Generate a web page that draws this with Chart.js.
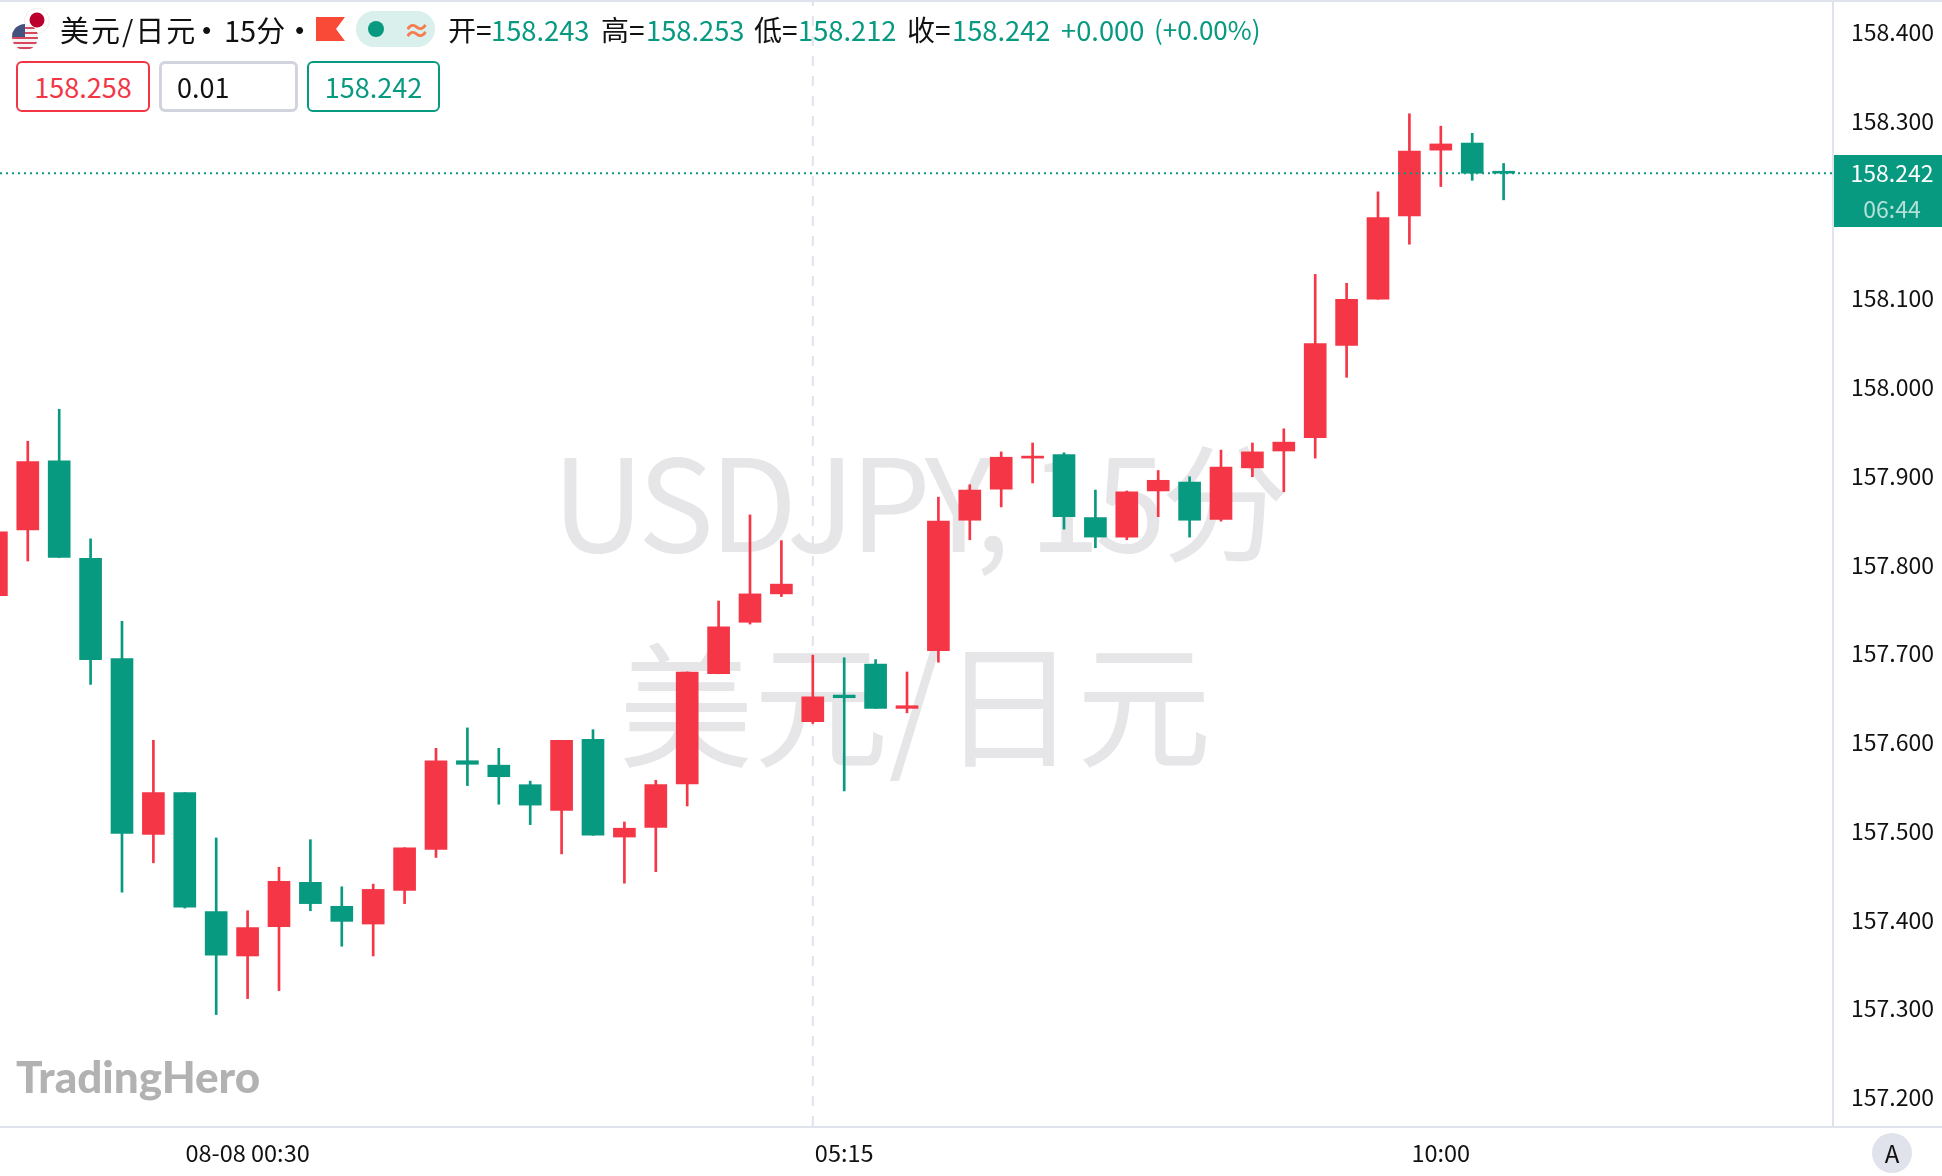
<!DOCTYPE html>
<html lang="zh">
<head>
<meta charset="UTF-8">
<title>USDJPY</title>
<script src="https://cdn.jsdelivr.net/npm/chart.js"></script>
<style>
html, body { margin: 0; padding: 0; background: #fff; overflow: hidden; }
body { width: 1942px; height: 1176px; position: relative; font-family: "Noto Sans CJK SC", "Noto Sans", sans-serif; color: #111; }
canvas { position: absolute; left: 0; top: 0; }
.t { position: absolute; white-space: nowrap; line-height: 36px; height: 36px; top: 11px; font-size: 27.3px; }
.c { font-size: 28px; }
.g { color: #089981; }
.box { position: absolute; top: 61px; height: 51px; box-sizing: border-box; border-radius: 6px; background: #fff; font-size: 27px; line-height: 47px; text-align: center; }
</style>
</head>
<body>
<canvas id="chart" width="1942" height="1176"></canvas>

<div style="position:absolute;left:0;top:0;width:1942px;height:2px;background:#e0e3eb"></div>
<div style="position:absolute;left:1834px;top:1126px;width:108px;height:2px;background:#e0e3eb"></div>

<svg style="position:absolute;left:10px;top:8px" width="40" height="46" viewBox="0 0 40 46">
	<circle cx="27" cy="13" r="12.5" fill="#fff" stroke="#eeeeee"/>
	<circle cx="27" cy="12" r="7.5" fill="#bc002d"/>
	<clipPath id="us"><circle cx="15" cy="29" r="13"/></clipPath>
	<g clip-path="url(#us)">
		<rect x="2" y="16" width="26" height="26" fill="#f4f4f6"/>
		<rect x="2" y="19" width="26" height="2" fill="#d9475c"/>
		<rect x="2" y="24" width="26" height="2" fill="#d9475c"/>
		<rect x="2" y="29" width="26" height="2" fill="#d9475c"/>
		<rect x="2" y="34" width="26" height="2" fill="#d9475c"/>
		<rect x="2" y="39" width="26" height="2" fill="#d9475c"/>
		<rect x="2" y="16" width="13" height="13" fill="#44527f"/>
	</g>
</svg>

<span class="t" style="left:60px;font-size:29px;letter-spacing:2px">美元/日元</span>
<span class="t" style="left:193px;font-weight:700">·</span>
<span class="t" style="left:224px;font-size:29px">15分</span>
<span class="t" style="left:286px;font-weight:700">·</span>
<svg style="position:absolute;left:316px;top:17px" width="29" height="24"><polygon points="0,0 29,0 20,12 29,24 0,24" fill="#f94a38"/></svg>
<div style="position:absolute;left:356px;top:11px;width:79px;height:36px;border-radius:18px;background:#d9f0ec"></div>
<div style="position:absolute;left:368px;top:21px;width:16px;height:16px;border-radius:8px;background:#089981"></div>
<span class="t" style="left:403px;color:#f77c50;font-weight:700">≈</span>

<span class="t c" style="left:448px">开=</span><span class="t g" style="left:491px">158.243</span>
<span class="t c" style="left:601px">高=</span><span class="t g" style="left:646px">158.253</span>
<span class="t c" style="left:754px">低=</span><span class="t g" style="left:798px">158.212</span>
<span class="t c" style="left:907px">收=</span><span class="t g" style="left:952px">158.242</span>
<span class="t g" style="left:1061px">+0.000</span>
<span class="t g" style="left:1154px;font-size:26px">(+0.00%)</span>

<div class="box" style="left:16px;width:134px;border:2px solid #f23645;color:#f23645">158.258</div>
<div class="box" style="left:159px;width:139px;border:3px solid #d1d4dc;text-align:left;padding-left:15px;line-height:45px">0.01</div>
<div class="box" style="left:307px;width:133px;border:2px solid #089981;color:#089981">158.242</div>

<div style="position:absolute;left:1834px;top:155px;width:108px;height:72px;background:#089981"></div>
<span class="t" style="left:1838px;width:108px;text-align:center;top:154px;color:#fff;font-size:23px">158.242</span>
<span class="t" style="left:1838px;width:108px;text-align:center;top:190px;color:rgba(255,255,255,0.7);font-size:23px">06:44</span>

<div style="position:absolute;left:1872px;top:1133px;width:40px;height:40px;border-radius:20px;background:#e0e3eb;text-align:center;line-height:40px;font-size:24px">A</div>

<span style="position:absolute;left:16px;top:1048px;font:900 44px/56px Lato,sans-serif;color:#b2b2b2">TradingHero</span>

<script>
// candles, index 0 is the one cut off at the left edge
const open = [157.766,157.840,157.918,157.808,157.695,157.497,157.544,157.410,157.360,157.393,157.443,157.416,157.396,157.434,157.480,157.580,157.575,157.553,157.524,157.604,157.494,157.505,157.554,157.678,157.736,157.768,157.624,157.654,157.689,157.639,157.704,157.851,157.886,157.921,157.925,157.854,157.832,157.884,157.894,157.852,157.910,157.929,157.944,158.048,158.100,158.194,158.268,158.276,158.243];
const high = [157.838,157.940,157.976,157.830,157.737,157.603,157.544,157.493,157.411,157.460,157.491,157.438,157.441,157.482,157.594,157.617,157.594,157.557,157.603,157.615,157.511,157.558,157.680,157.760,157.857,157.828,157.699,157.696,157.694,157.680,157.877,157.891,157.928,157.938,157.927,157.885,157.884,157.907,157.900,157.930,157.938,157.954,158.128,158.118,158.221,158.309,158.295,158.287,158.253];
const low = [157.766,157.805,157.809,157.666,157.432,157.465,157.414,157.294,157.312,157.321,157.411,157.371,157.360,157.419,157.471,157.552,157.531,157.508,157.475,157.496,157.442,157.455,157.529,157.678,157.734,157.765,157.622,157.546,157.639,157.634,157.691,157.829,157.866,157.893,157.841,157.820,157.829,157.855,157.832,157.850,157.900,157.883,157.921,158.012,158.100,158.162,158.227,158.234,158.212];
const close = [157.838,157.917,157.809,157.694,157.498,157.544,157.415,157.361,157.392,157.444,157.419,157.399,157.435,157.482,157.580,157.576,157.562,157.530,157.603,157.496,157.504,157.553,157.680,157.731,157.768,157.779,157.652,157.651,157.639,157.642,157.850,157.885,157.922,157.923,157.855,157.832,157.883,157.896,157.851,157.911,157.928,157.939,158.050,158.100,158.192,158.267,158.275,158.242,158.242];

const yTicks = [158.4,158.3,158.1,158.0,157.9,157.8,157.7,157.6,157.5,157.4,157.3,157.2];
const xTicks = [8,27,46];
const xLabels = ['08-08 00:30','05:15','10:00'];
const crossIndex = 26;

const RED = '#f43646';
const GREEN = '#089981';
const colors = open.map((o, i) => close[i] < o ? GREEN : RED);
const last = close[close.length - 1];

const xMin = 0.115;
const xMax = 58.49;

const background = {
	id: 'background',
	beforeDatasetsDraw(chart) {
		const ctx = chart.ctx;
		const a = chart.chartArea;
		ctx.save();
		ctx.fillStyle = '#e6e6e8';
		ctx.textAlign = 'center';
		ctx.textBaseline = 'middle';
		ctx.font = '128px "Noto Sans CJK SC"';
		ctx.letterSpacing = '-5px';
		ctx.fillText('USDJPY, 15分', 918, 503);
		ctx.letterSpacing = '0px';
		ctx.font = '135px "Noto Sans CJK SC"';
		ctx.fillText('美元/日元', 915, 706);
		// crosshair
		const x = chart.scales.x.getPixelForValue(crossIndex);
		ctx.strokeStyle = '#e0e3eb';
		ctx.lineWidth = 2;
		ctx.setLineDash([10, 10]);
		ctx.lineDashOffset = 6;
		ctx.beginPath();
		ctx.moveTo(x, a.top);
		ctx.lineTo(x, a.bottom);
		ctx.stroke();
		ctx.restore();
	}
};

const chart = new Chart(document.getElementById('chart'), {
	data: {
		datasets: [
			{
				type: 'line',
				order: 0,
				data: [{x: xMin, y: last}, {x: xMax, y: last}],
				borderColor: GREEN,
				borderWidth: 2,
				borderDash: [2, 4],
				pointRadius: 0
			},
			{
				type: 'bar',
				order: 1,
				data: open.map((o, i) => ({x: i, y: [o, close[i]]})),
				backgroundColor: colors,
				barThickness: 22,
				minBarLength: 2,
				grouped: false
			},
			{
				type: 'bar',
				order: 2,
				data: low.map((l, i) => ({x: i, y: [l, high[i]]})),
				backgroundColor: colors,
				barThickness: 2,
				grouped: false
			}
		]
	},
	plugins: [background],
	options: {
		responsive: false,
		animation: false,
		devicePixelRatio: 1,
		layout: {padding: {top: 2}},
		plugins: {legend: false, tooltip: {enabled: false}},
		scales: {
			x: {
				type: 'linear',
				offset: false,
				min: xMin,
				max: xMax,
				afterBuildTicks: (axis) => { axis.ticks = xTicks.map(v => ({value: v})); },
				afterFit: (axis) => { axis.height = 49; axis.paddingLeft = 0; axis.paddingRight = 0; },
				grid: {display: false},
				border: {color: '#e0e3eb', width: 2},
				ticks: {
					autoSkip: false,
					maxRotation: 0,
					padding: 4,
					color: '#111',
					font: {family: '"Noto Sans CJK SC"', size: 23.5},
					callback: (v) => xLabels[xTicks.indexOf(v)]
				}
			},
			y: {
				position: 'right',
				min: 157.1673,
				max: 158.43493,
				afterBuildTicks: (axis) => { axis.ticks = yTicks.map(v => ({value: v})); },
				afterFit: (axis) => { axis.width = 109; axis.paddingTop = 0; axis.paddingBottom = 0; },
				grid: {display: false},
				border: {color: '#e0e3eb', width: 2},
				ticks: {
					autoSkip: false,
					padding: 10,
					labelOffset: -0.5,
					color: '#111',
					font: {family: '"Noto Sans CJK SC"', size: 23},
					callback: (v) => v.toFixed(3)
				}
			}
		}
	}
});
</script>
</body>
</html>
